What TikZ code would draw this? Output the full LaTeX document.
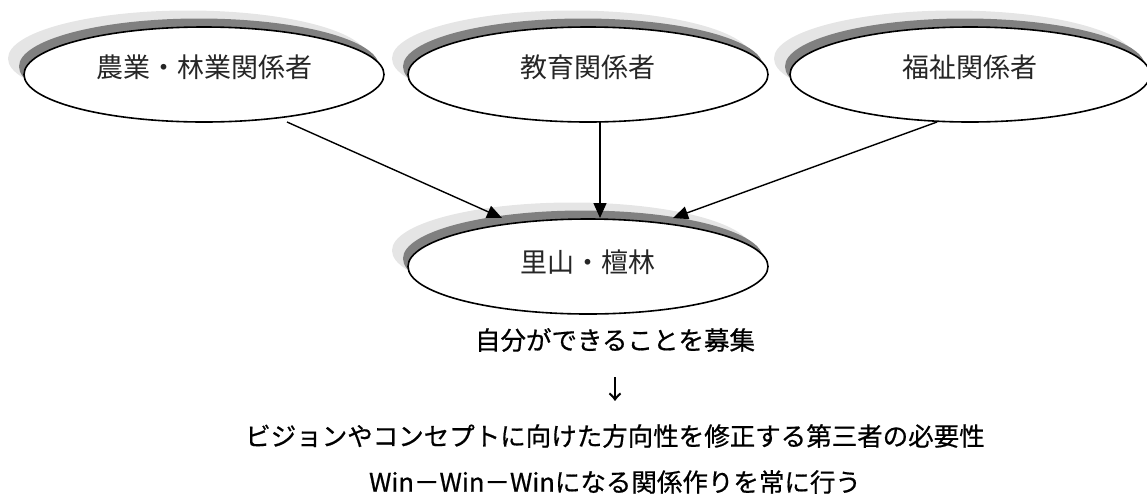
\documentclass[tikz,border=0pt]{standalone}
\usepackage{fontspec}
\setmainfont{Noto Sans CJK JP}
\newfontfamily\botfont[FakeBold=0.6]{Noto Sans CJK JP}
\usetikzlibrary{arrows.meta,shapes.geometric}
\tikzset{
  bubble/.style={ellipse, draw=black, line width=1.6pt, fill=white, minimum width=360pt, minimum height=95pt, inner sep=0pt},
  shadowlight/.style={fill=black!10},
  shadowdark/.style={fill=black!50},
  toplabel/.style={font=\fontsize{27pt}{30pt}\selectfont, text=black!85, inner sep=0pt},
  botlabel/.style={font=\botfont\fontsize{25.5pt}{28pt}\selectfont, text=black, inner sep=0pt},
  conn/.style={line width=1.4pt, -{Triangle[length=15pt,width=13pt]}}
}
\begin{document}
\begin{tikzpicture}[x=1pt,y=-1pt]
\useasboundingbox (0,0) rectangle (1147,496);
% shadows
\foreach \cx/\cy in {204/74.5, 588/74.5, 970/74.5, 588/266.5}{
  \fill[shadowlight] (\cx-16,\cy-16) ellipse [x radius=180, y radius=48];
  \fill[shadowdark] (\cx-5,\cy-8) ellipse [x radius=180, y radius=48];
}
\node[bubble] (e1) at (204,74.5) {};
\node[bubble] (e2) at (588,74.5) {};
\node[bubble] (e3) at (970,74.5) {};
\node[bubble] (e4) at (588,266.5) {};
\node[toplabel] (l1) at (204,67) {農業・林業関係者};
\node[toplabel] (l2) at (588,67) {教育関係者};
\node[toplabel] (l3) at (970,67) {福祉関係者};
\node[toplabel] (l4) at (588,262) {里山・檀林};
% connector endpoints
\coordinate (s1) at (287,122);
\coordinate (s2) at (600,122);
\coordinate (s3) at (937,122);
\coordinate (t1) at (502,218);
\coordinate (t2) at (600,218);
\coordinate (t3) at (673,218);
\draw[conn] (s1) -- (t1);
\draw[conn] (s2) -- (t2);
\draw[conn] (s3) -- (t3);
% bottom text
\node[botlabel] (b1) at (615,340) {自分ができることを募集};
\node[botlabel] (b2) at (615,389) {↓};
\node[botlabel] (b3) at (615,436) {ビジョンやコンセプトに向けた方向性を修正する第三者の必要性};
\node[botlabel] (b4) at (615,482) {Win－Win－Winになる関係作りを常に行う};
\end{tikzpicture}
\end{document}
